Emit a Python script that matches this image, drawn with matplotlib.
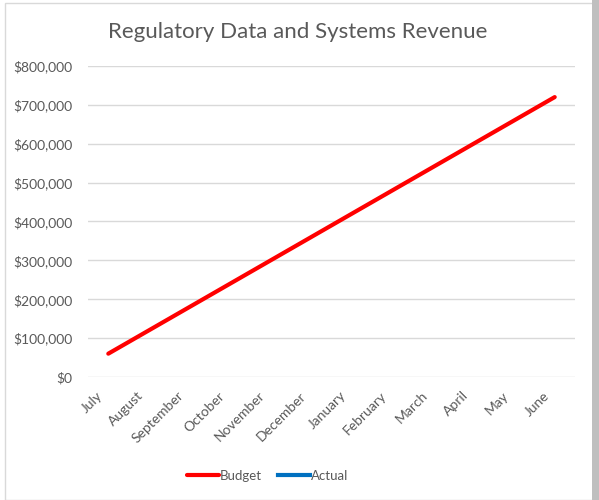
#!/usr/bin/env python3

import matplotlib.pyplot as plt
from matplotlib.ticker import FuncFormatter
from matplotlib.patches import Rectangle

months = ['July', 'August', 'September', 'October', 'November', 'December',
          'January', 'February', 'March', 'April', 'May', 'June']
budget = [60000, 120000, 180000, 240000, 300000, 360000,
          420000, 480000, 540000, 600000, 660000, 720000]
actual = []


def main():
    plt.rcParams['font.family'] = ['Lato', 'DejaVu Sans']
    fig = plt.figure(figsize=(5.99, 5.0), dpi=100)
    ax = fig.add_axes([88 / 599, 1 - 377 / 500, (575 - 88) / 599, (377 - 66) / 500])

    x = list(range(len(months)))
    ax.plot(x, budget, color='#ff0000', lw=3, solid_capstyle='round', label='Budget')
    ax.plot(x[:len(actual)], actual, color='#0070c0', lw=3, label='Actual')

    ax.set_xlim(-0.5, len(months) - 0.5)
    ax.set_ylim(0, 800000)
    ax.set_yticks(range(0, 800001, 100000))
    ax.yaxis.set_major_formatter(FuncFormatter(lambda v, p: f'${v:,.0f}'))
    ax.set_xticks(x)
    ax.set_xticklabels([])
    # excel puts the rotated labels a little left of the tick
    for i, m in enumerate(months):
        ax.annotate(m, xy=(i, 0), xycoords=('data', 'axes fraction'),
                    xytext=(-8.5, -9), textcoords='offset points',
                    rotation=45, ha='right', va='top', rotation_mode='anchor',
                    fontsize=10, color='#595959')
    ax.grid(axis='y', color='#d9d9d9', lw=1)
    ax.set_axisbelow(True)
    for s in ax.spines.values():
        s.set_visible(False)
    ax.tick_params(length=0, labelsize=10, colors='#595959')
    ax.tick_params(axis='y', pad=11)

    fig.text(0.497, 0.937, 'Regulatory Data and Systems Revenue', ha='center',
             va='center', fontsize=16, color='#595959')

    fig.legend(loc='center', bbox_to_anchor=(0.447, 0.048), ncol=2, frameon=False,
               fontsize=9.5, handlelength=2.4, handletextpad=0.1, columnspacing=1.2,
               labelcolor='#595959')

    # chart border like the spreadsheet frame
    fig.patches.append(Rectangle((5 / 599, 0), 1, 1 - 3 / 500, transform=fig.transFigure,
                                 fill=False, edgecolor='#d9d9d9', lw=1))
    fig.patches.append(Rectangle((592 / 599, 0), 7 / 599, 1, transform=fig.transFigure,
                                 facecolor='#bfbfbf', edgecolor='none'))

    fig.savefig('out.png', dpi=100)


if __name__ == '__main__':
    main()
